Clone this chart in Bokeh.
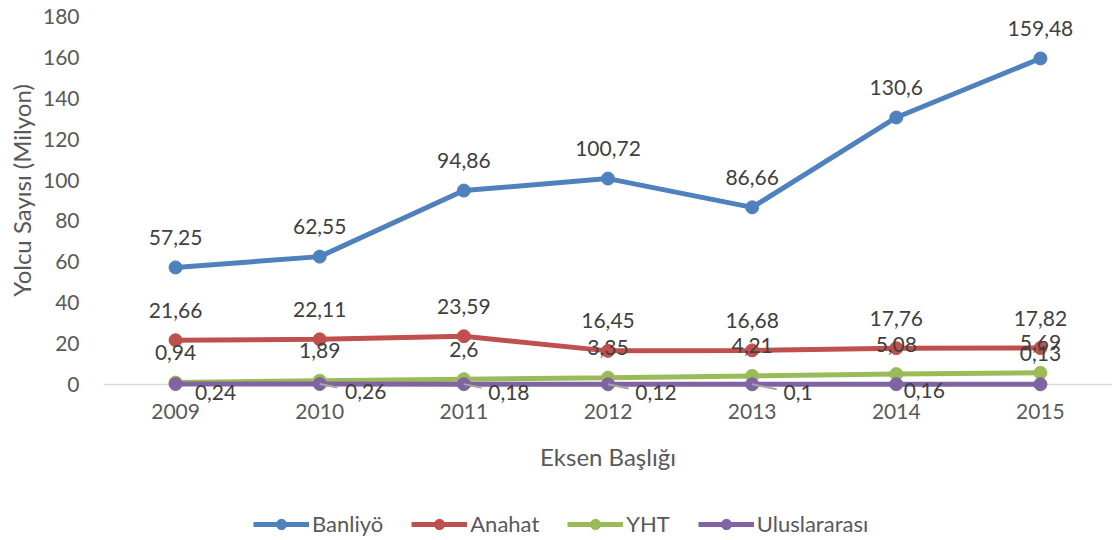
from bokeh.plotting import figure
from bokeh.layouts import column
from bokeh.models import ColumnDataSource, Legend, LegendItem, FixedTicker, Range1d, Span
from bokeh.core.properties import value
from bokeh.embed import file_html
from bokeh.resources import INLINE

years = [2009, 2010, 2011, 2012, 2013, 2014, 2015]
banliyo = [57.25, 62.55, 94.86, 100.72, 86.66, 130.6, 159.48]
anahat = [21.66, 22.11, 23.59, 16.45, 16.68, 17.76, 17.82]
yht = [0.94, 1.89, 2.6, 3.35, 4.21, 5.08, 5.69]
uluslararasi = [0.24, 0.26, 0.18, 0.12, 0.1, 0.16, 0.13]
series_names = ["Banliyö", "Anahat", "YHT", "Uluslararası"]
y_title = "Yolcu Sayısı (Milyon)"
x_title = "Eksen Başlığı"

colors = ["#4F81BD", "#C0504D", "#9BBB59", "#8064A2"]
FONT = "Lato"
GREY = "#595959"

# label placement styles for the last series (screen px)
ul_dx = [40, 46, 45, 48, 46, 28, 0]
ul_dy = [8, 8, 8, 8, 8, 6, -31]
ul_leader = [0, 18, 18, 21, 25, 0, 0]


def fmt(v):
    return f"{v:g}".replace(".", ",")


p = figure(width=1112, height=508, output_backend="svg", toolbar_location=None,
           x_range=Range1d(2008.5, 2015.5), y_range=Range1d(-10.76, 180),
           min_border_left=103, min_border_right=0, min_border_top=16,
           min_border_bottom=102)
p.outline_line_color = None
p.xgrid.visible = False
p.ygrid.visible = False

# axes
p.xaxis.ticker = FixedTicker(ticks=years)
p.xaxis.axis_line_color = None
p.xaxis.major_tick_line_color = None
p.xaxis.minor_tick_line_color = None
p.xaxis.major_tick_out = 0
p.xaxis.major_tick_in = 0
p.xaxis.major_label_standoff = -3
p.xaxis.major_label_text_font = FONT
p.xaxis.major_label_text_font_size = "21px"
p.xaxis.major_label_text_color = GREY
p.xaxis.axis_label = x_title
p.xaxis.axis_label_text_font = FONT
p.xaxis.axis_label_text_font_size = "24px"
p.xaxis.axis_label_text_font_style = "normal"
p.xaxis.axis_label_text_color = GREY
p.xaxis.axis_label_standoff = 20

p.yaxis.ticker = FixedTicker(ticks=list(range(0, 181, 20)))
p.yaxis.axis_line_color = None
p.yaxis.major_tick_line_color = None
p.yaxis.minor_tick_line_color = None
p.yaxis.major_tick_out = 0
p.yaxis.major_tick_in = 0
p.yaxis.major_label_standoff = 24
p.yaxis.major_label_text_font = FONT
p.yaxis.major_label_text_font_size = "21px"
p.yaxis.major_label_text_color = GREY
# leading no-break spaces nudge the rotated title up to centre it on 0..180
p.yaxis.axis_label = "\u00a0" * 7 + y_title
p.yaxis.axis_label_text_font = FONT
p.yaxis.axis_label_text_font_size = "24px"
p.yaxis.axis_label_text_font_style = "normal"
p.yaxis.axis_label_text_color = GREY
p.yaxis.axis_label_standoff = 4

# category axis baseline at zero
p.add_layout(Span(location=0, dimension="width", line_color="#D9D9D9",
                  line_width=1.5, level="underlay"))

all_series = [banliyo, anahat, yht, uluslararasi]
for name, vals, col in zip(series_names, all_series, colors):
    src = ColumnDataSource(dict(x=years, y=vals))
    p.line("x", "y", source=src, line_color=col, line_width=5)
    p.scatter("x", "y", source=src, size=13, fill_color=col, line_color=col)

# leader lines for moved labels of the last series
idx = [i for i, l in enumerate(ul_leader) if l > 0]
lsrc = ColumnDataSource(dict(x=[years[i] for i in idx],
                             y=[uluslararasi[i] for i in idx],
                             l=[ul_leader[i] for i in idx]))
p.ray("x", "y", length="l", length_units="screen", angle=-0.2, source=lsrc,
      line_color="#A6A6A6", line_width=2)

# data labels
for vals in [banliyo, anahat, yht]:
    src = ColumnDataSource(dict(x=years, y=vals, t=[fmt(v) for v in vals]))
    p.text("x", "y", text="t", source=src, y_offset=-30, text_align="center",
           text_baseline="middle", text_font=value(FONT), text_font_size="21px",
           text_color="#404040")
usrc = ColumnDataSource(dict(x=years, y=uluslararasi, t=[fmt(v) for v in uluslararasi],
                             dx=ul_dx, dy=ul_dy))
p.text("x", "y", text="t", source=usrc, x_offset="dx", y_offset="dy", text_align="center",
       text_baseline="middle", text_font=value(FONT), text_font_size="21px",
       text_color="#404040")

# legend strip (series drawn out of view, only their legend glyphs show)
lp = figure(width=1112, height=32, output_backend="svg", toolbar_location=None,
            x_range=Range1d(2008.5, 2015.5), y_range=Range1d(1000, 1001),
            x_axis_location=None, y_axis_location=None, min_border=0)
lp.outline_line_color = None
lp.xgrid.visible = False
lp.ygrid.visible = False
items = []
for name, vals, col in zip(series_names, all_series, colors):
    src = ColumnDataSource(dict(x=years, y=vals))
    lr = lp.line("x", "y", source=src, line_color=col, line_width=5)
    sr = lp.scatter("x", "y", source=src, size=13, fill_color=col, line_color=col)
    items.append(LegendItem(label=name, renderers=[lr, sr]))

legend = Legend(items=items, orientation="horizontal", location=(150, 3),
                glyph_width=56, glyph_height=26, label_standoff=3, spacing=28,
                padding=0, margin=0, border_line_color=None,
                background_fill_alpha=0, label_text_font=FONT,
                label_text_font_size="22px", label_text_color=GREY)
lp.add_layout(legend, "center")

layout = column(p, lp, spacing=0)
open("out.html", "w").write(file_html(layout, INLINE))
